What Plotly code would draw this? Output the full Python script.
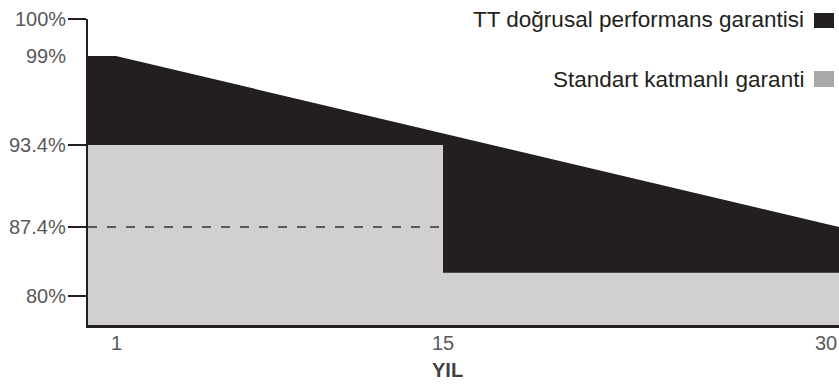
import numpy as np
import plotly.graph_objects as go

# ---- data ----
linear_years = [0, 1, 30]
linear_values = [99, 99, 87.4]          # TT doğrusal performans garantisi (%)
tier_years = [0, 15, 15, 30]
tier_values = [93.4, 93.4, 82.5, 82.5]  # Standart katmanlı garanti (%)
dashed_level = 87.4
dashed_end_year = 15
y_tick_values = [80, 87.4, 93.4, 100]
y_label_values = [80, 87.4, 93.4, 99, 100]
y_labels = ["80%", "87.4%", "93.4%", "99%", "100%"]
x_tick_years = [1, 15, 30]
x_tick_labels = ["1", "15", "30"]
x_title = "YIL"
series_names = ["TT doğrusal performans garantisi", "Standart katmanlı garanti"]

# ---- schematic (non-linear) scales of the original drawing ----
PCT_KNOTS = [80, 87.4, 93.4, 99, 100]
PCT_POS = [29, 98, 180, 269, 306]
YEAR_KNOTS = [0, 1, 15, 30]
YEAR_POS = [0, 28, 355, 751]


def ys(v):
    return np.interp(v, PCT_KNOTS, PCT_POS)


def xs(v):
    return np.interp(v, YEAR_KNOTS, YEAR_POS)


BLACK = "#231f20"
GRAY_FILL = "#d1cfd0"
GRAY_KEY = "#a8a8a8"
LABEL = "#58595b"
FONT = "Arial, Liberation Sans, sans-serif"

fig = go.Figure()
fig.add_trace(go.Scatter(x=xs(linear_years), y=ys(linear_values), mode="lines",
                         line=dict(width=0, color=BLACK), fill="tozeroy",
                         fillcolor=BLACK, name=series_names[0], hoverinfo="skip"))
fig.add_trace(go.Scatter(x=xs(tier_years), y=ys(tier_values), mode="lines",
                         line=dict(width=0, color=GRAY_FILL), fill="tozeroy",
                         fillcolor=GRAY_FILL, name=series_names[1], hoverinfo="skip"))
fig.add_trace(go.Scatter(x=xs([0, dashed_end_year]), y=ys([dashed_level, dashed_level]),
                         mode="lines", line=dict(color="#333333", width=1.5, dash="9px,10px"),
                         hoverinfo="skip", showlegend=False))

W, H = 839, 385
L, R, T, B = 88, 0, 19, 60
pw, ph = W - L - R, H - T - B


def px_x(p):
    return (p - L) / pw


def px_y(p):
    return (H - B - p) / ph


annotations = []
for yr, lab in zip(x_tick_years, x_tick_labels):
    a = dict(x=xs(yr), xref="x", y=px_y(343), yref="paper", text=lab, showarrow=False,
             xanchor="center", yanchor="middle", font=dict(size=20, color=LABEL, family=FONT))
    if yr == x_tick_years[-1]:
        a.update(x=1, xref="paper", xanchor="right")
    annotations.append(a)
annotations.append(dict(x=xs(15) / pw + 4 / pw, xref="paper", y=px_y(370), yref="paper",
                        text="<b>%s</b>" % x_title, showarrow=False, xanchor="center",
                        yanchor="middle", font=dict(size=20, color="#414042", family=FONT)))
for v, lab in zip(y_label_values, y_labels):
    annotations.append(dict(x=0, xref="paper", xshift=-20, y=ys(v), yref="y",
                            text=lab, showarrow=False, xanchor="right", yanchor="middle",
                            font=dict(size=20, color=LABEL, family=FONT)))
legend_y = [20, 79]
key_box = [(13, 28), (71, 87)]
key_colors = [BLACK, GRAY_KEY]
shapes = []
for name, ly, (k0, k1), kc in zip(series_names, legend_y, key_box, key_colors):
    annotations.append(dict(x=px_x(806), xref="paper", y=px_y(ly), yref="paper", text=name,
                            showarrow=False, xanchor="right", yanchor="middle",
                            font=dict(size=22.5, color=BLACK, family=FONT)))
    shapes.append(dict(type="rect", xref="paper", yref="paper", x0=px_x(814), x1=px_x(834),
                       y0=px_y(k1), y1=px_y(k0), fillcolor=kc, line=dict(width=0)))

fig.update_layout(
    width=W, height=H, margin=dict(l=L, r=R, t=T, b=B),
    plot_bgcolor="white", paper_bgcolor="white", showlegend=False,
    font=dict(family=FONT, size=20, color=LABEL),
    xaxis=dict(range=[0, pw], showgrid=False, zeroline=False, showticklabels=False,
               ticks="", showline=True, linecolor=BLACK, linewidth=3, fixedrange=True),
    yaxis=dict(range=[0, ph], showgrid=False, zeroline=False, tickmode="array",
               tickvals=ys(y_tick_values), showticklabels=False, ticks="outside",
               ticklen=18, tickwidth=2.5, tickcolor=BLACK, showline=True, linecolor=BLACK,
               linewidth=2.5, fixedrange=True),
    annotations=annotations, shapes=shapes,
)

fig.write_html("out.html", config={"displayModeBar": False, "staticPlot": True},
               post_script="document.body.style.margin='0';document.body.style.overflow='hidden';")
